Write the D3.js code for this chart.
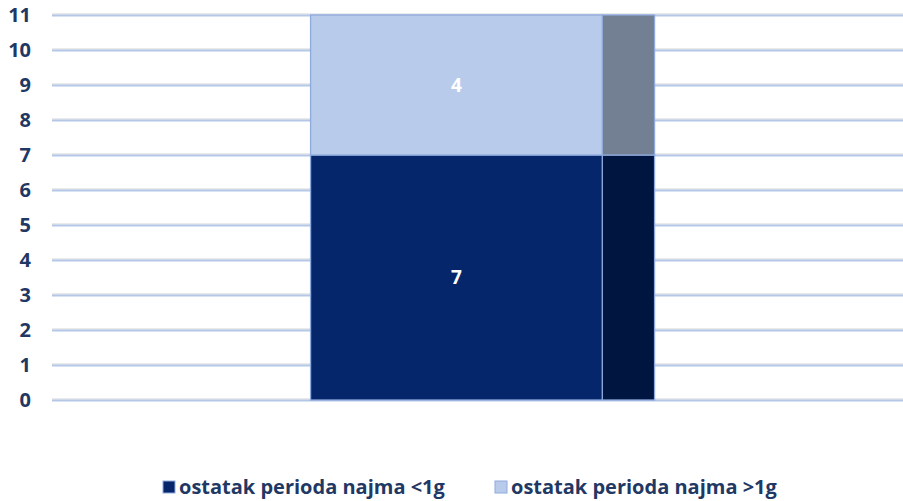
<!DOCTYPE html>
<html>
<head>
<meta charset="utf-8">
<script src="https://cdn.jsdelivr.net/npm/d3@7"></script>
<style>
  body { margin: 0; background: #fff; }
  svg { display: block; font-family: "Open Sans", "Noto Sans", sans-serif; }
</style>
</head>
<body>
<div id="chart"></div>
<script>
// chart data
const categories = ['Ugovori'];
const seriesNames = ['ostatak perioda najma <1g', 'ostatak perioda najma >1g'];
const seriesValues = [[7], [4]];
const yTicks = [0, 1, 2, 3, 4, 5, 6, 7, 8, 9, 10, 11];

const frontColors = ['#05266a', '#b9cbea'];
const sideColors = ['#001540', '#737f93'];

const totalWidth = 903, totalHeight = 501;
const margins = {top: 15, left: 52, right: 0, bottom: 101};
const height = totalHeight - margins.top - margins.bottom;

const svg = d3.select('#chart').append('svg')
  .attr('width', totalWidth)
  .attr('height', totalHeight);

const y = d3.scaleLinear().domain([0, 11]).range([margins.top + height, margins.top]);
const x = d3.scaleBand().domain(categories)
  .range([margins.left, totalWidth - margins.right])
  .paddingInner(0).paddingOuter(0.737).align(0.51);

// gridlines, drawn double like the 3D floor lines
const grid = svg.append('g').attr('class', 'grid');
yTicks.forEach(t => {
  grid.append('line')
    .attr('x1', margins.left).attr('x2', totalWidth)
    .attr('y1', Math.round(y(t)) - 1).attr('y2', Math.round(y(t)) - 1)
    .style('stroke', '#d6d6d6').style('stroke-width', 1.2);
  grid.append('line')
    .attr('x1', margins.left).attr('x2', totalWidth)
    .attr('y1', Math.round(y(t)) + 0.5).attr('y2', Math.round(y(t)) + 0.5)
    .style('stroke', '#b4c7e7').style('stroke-width', 2);
});

// y axis labels
const yAxis = d3.axisLeft(y).tickValues(yTicks).tickSize(0).tickPadding(0);
const axisG = svg.append('g')
  .attr('transform', 'translate(' + [31, 0] + ')')
  .call(yAxis);
axisG.select('.domain').remove();
axisG.selectAll('text')
  .style('font-size', '20px')
  .style('font-weight', 'bold')
  .style('fill', '#1f3864')
  .style('font-family', '"Open Sans", sans-serif');

// stacked bars with a side face
const stacked = d3.stack().keys(d3.range(seriesNames.length))
  (categories.map((c, ci) => seriesValues.map(s => s[ci])));

const bw = x.bandwidth();
const frontW = bw * 0.848;
const sideW = bw - frontW;

stacked.forEach((layer, li) => {
  layer.forEach((d, ci) => {
    const x0 = x(categories[ci]);
    const yTop = y(d[1]), yBot = y(d[0]);
    const g = svg.append('g').attr('class', 'bar');
    g.append('rect')
      .attr('x', x0 + frontW).attr('y', yTop)
      .attr('width', sideW).attr('height', yBot - yTop)
      .style('fill', sideColors[li])
      .style('stroke', '#8faadc').style('stroke-width', 1.3);
    g.append('rect')
      .attr('x', x0).attr('y', yTop)
      .attr('width', frontW).attr('height', yBot - yTop)
      .style('fill', frontColors[li])
      .style('stroke', '#8faadc').style('stroke-width', 1.3);
    g.append('text')
      .attr('x', x0 + frontW / 2)
      .attr('y', (yTop + yBot) / 2)
      .attr('dy', '0.36em')
      .attr('text-anchor', 'middle')
      .style('font-size', '19px')
      .style('font-weight', 'bold')
      .style('fill', '#ffffff')
      .text(d[1] - d[0]);
  });
});

// legend
const legendX = [163, 495];
const legend = svg.append('g').attr('class', 'legend');
seriesNames.forEach((name, i) => {
  legend.append('rect')
    .attr('x', legendX[i]).attr('y', 481)
    .attr('width', 12).attr('height', 12)
    .style('fill', frontColors[i])
    .style('stroke', '#8faadc').style('stroke-width', 1);
  legend.append('text')
    .attr('x', legendX[i] + 16).attr('y', 494)
    .style('font-size', '20px')
    .style('font-weight', 'bold')
    .style('fill', '#1f3864')
    .text(name);
});
</script>
</body>
</html>
